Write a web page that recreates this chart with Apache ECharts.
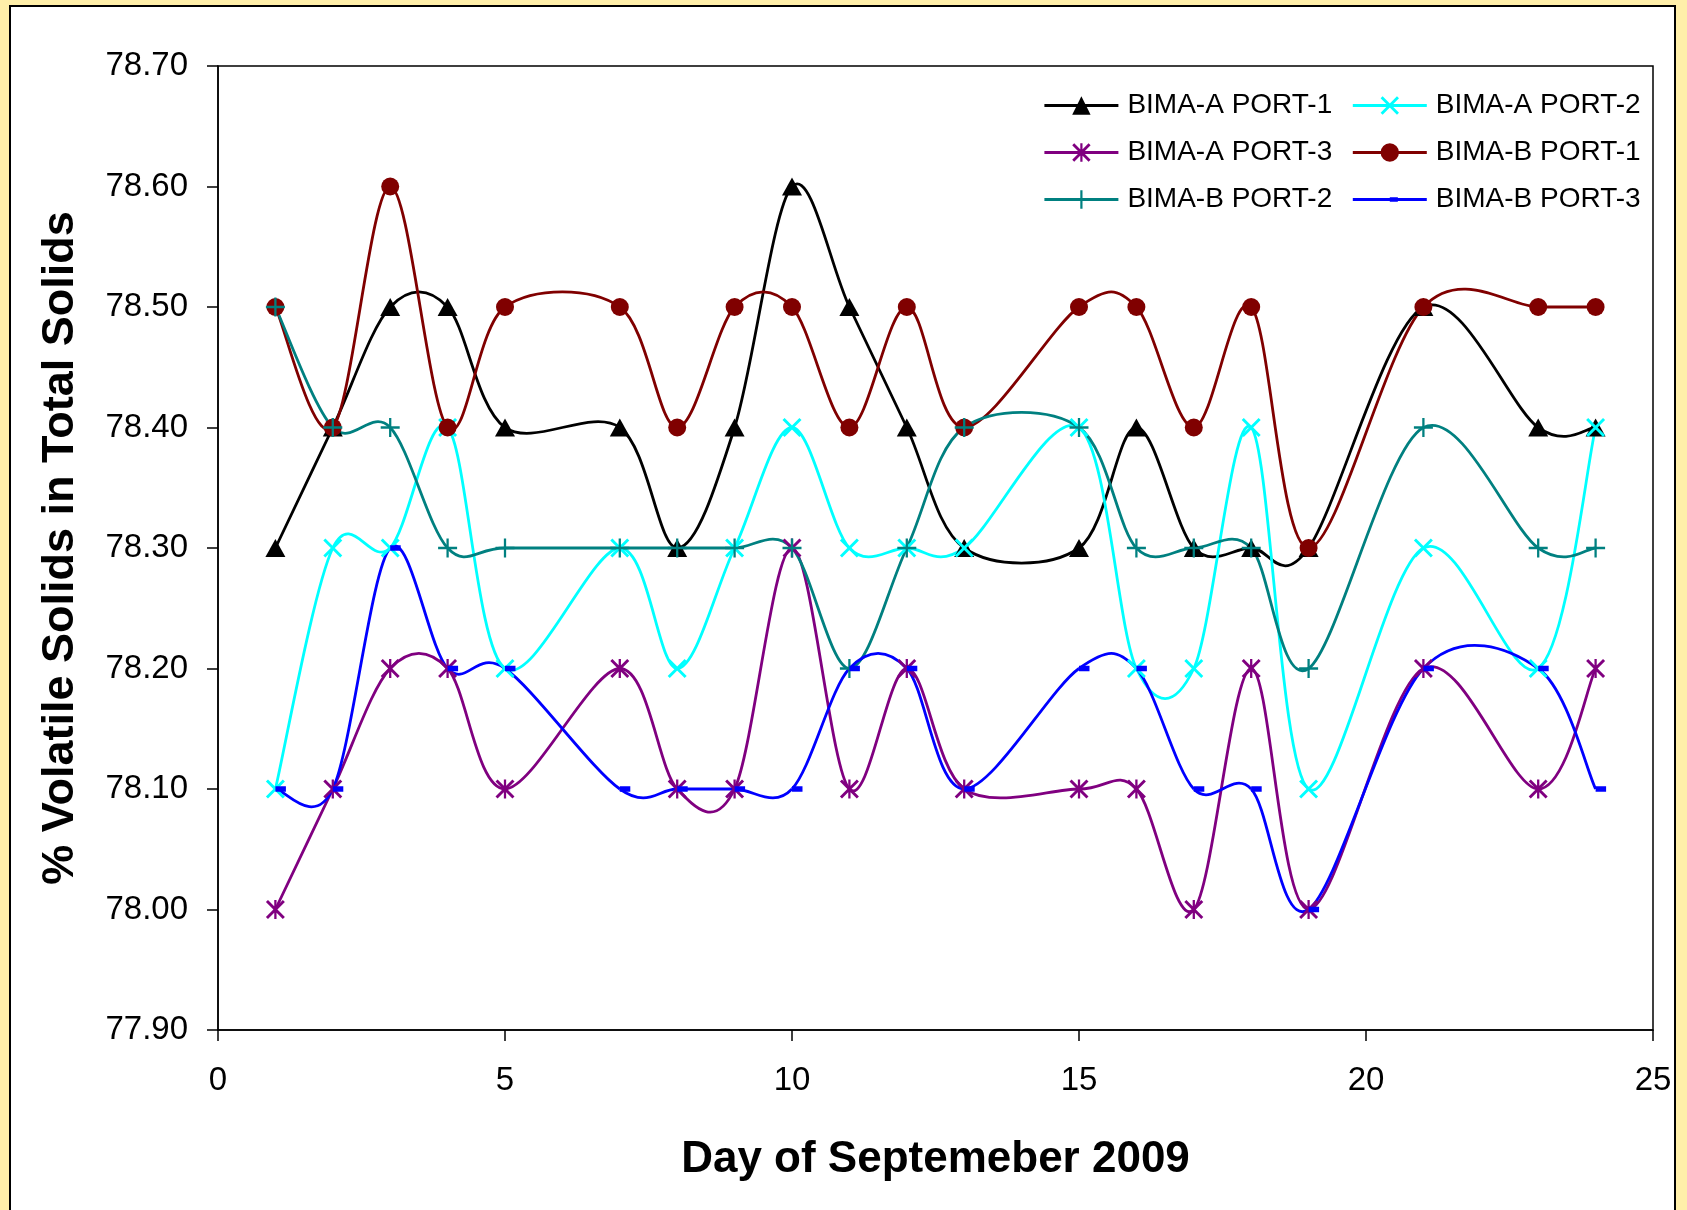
<!DOCTYPE html>
<html>
<head>
<meta charset="utf-8">
<script src="https://cdn.jsdelivr.net/npm/echarts@6/dist/echarts.min.js"></script>
<style>
  html, body { margin: 0; padding: 0; background: #FFEFA9; }
  #panel { position: absolute; left: 9px; top: 5px; width: 1667px; height: 1300px; background: #fff; border: 2px solid #000; box-sizing: border-box; }
  #main { position: absolute; left: 0; top: 0; width: 1687px; height: 1210px; }
</style>
</head>
<body>
<div id="panel"></div>
<div id="main"></div>
<script>
// day of month
const days = [1, 2, 3, 4, 5, 7, 8, 9, 10, 11, 12, 13, 15, 16, 17, 18, 19, 21, 23, 24];

const aPort1 = [78.30, 78.40, 78.50, 78.50, 78.40, 78.40, 78.30, 78.40, 78.60, 78.50, 78.40, 78.30, 78.30, 78.40, 78.30, 78.30, 78.30, 78.50, 78.40, 78.40];
const aPort2 = [78.10, 78.30, 78.30, 78.40, 78.20, 78.30, 78.20, 78.30, 78.40, 78.30, 78.30, 78.30, 78.40, 78.20, 78.20, 78.40, 78.10, 78.30, 78.20, 78.40];
const aPort3 = [78.00, 78.10, 78.20, 78.20, 78.10, 78.20, 78.10, 78.10, 78.30, 78.10, 78.20, 78.10, 78.10, 78.10, 78.00, 78.20, 78.00, 78.20, 78.10, 78.20];
const bPort1 = [78.50, 78.40, 78.60, 78.40, 78.50, 78.50, 78.40, 78.50, 78.50, 78.40, 78.50, 78.40, 78.50, 78.50, 78.40, 78.50, 78.30, 78.50, 78.50, 78.50];
const bPort2 = [78.50, 78.40, 78.40, 78.30, 78.30, 78.30, 78.30, 78.30, 78.30, 78.20, 78.30, 78.40, 78.40, 78.30, 78.30, 78.30, 78.20, 78.40, 78.30, 78.30];
const bPort3 = [78.10, 78.10, 78.30, 78.20, 78.20, 78.10, 78.10, 78.10, 78.10, 78.20, 78.20, 78.10, 78.20, 78.20, 78.10, 78.10, 78.00, 78.20, 78.20, 78.10];

const font = 'Arial, "Liberation Sans", sans-serif';

// filled marker shapes (excel style x, * and +, dash)
const xPath = 'path://M0,1.1L1.1,0L10,8.9L8.9,10ZM8.9,0L10,1.1L1.1,10L0,8.9Z';
const starPath = 'path://M0,1.1L1.1,0L10,8.9L8.9,10ZM8.9,0L10,1.1L1.1,10L0,8.9ZM4.4,0L5.6,0L5.6,10L4.4,10Z';
const plusPath = 'path://M4.4,0L5.6,0L5.6,4.4L10,4.4L10,5.6L5.6,5.6L5.6,10L4.4,10L4.4,5.6L0,5.6L0,4.4L4.4,4.4Z';
const dashPath = 'path://M0,0L0.001,0L0,0.001ZM24,24L24.001,24L24,24.001ZM12,9.2L22.5,9.2L22.5,14.8L12,14.8Z';

function zip(vals) {
  return days.map((d, i) => [d, vals[i]]);
}

// excel-like smoothing: catmull-rom segments drawn via the axis scales
function curveSeries(name, vals, color) {
  const n = days.length;
  return {
    name: name + ' curve',
    type: 'custom',
    data: zip(vals),
    z: 2,
    silent: true,
    animation: false,
    renderItem: function (params, api) {
      const i = params.dataIndex;
      if (i >= n - 1) return null;
      const p0 = api.coord([days[Math.max(i - 1, 0)], vals[Math.max(i - 1, 0)]]);
      const p1 = api.coord([days[i], vals[i]]);
      const p2 = api.coord([days[i + 1], vals[i + 1]]);
      const p3 = api.coord([days[Math.min(i + 2, n - 1)], vals[Math.min(i + 2, n - 1)]]);
      return {
        type: 'bezierCurve',
        shape: {
          x1: p1[0], y1: p1[1],
          cpx1: p1[0] + (p2[0] - p0[0]) / 6, cpy1: p1[1] + (p2[1] - p0[1]) / 6,
          cpx2: p2[0] - (p3[0] - p1[0]) / 6, cpy2: p2[1] - (p3[1] - p1[1]) / 6,
          x2: p2[0], y2: p2[1]
        },
        style: { stroke: color, lineWidth: 2.8, fill: null }
      };
    }
  };
}

function markerSeries(name, vals, color, symbol, size) {
  return {
    name: name,
    type: 'line',
    data: zip(vals),
    symbol: symbol,
    symbolSize: size,
    showAllSymbol: true,
    color: color,
    z: 3,
    lineStyle: { color: color, width: 2.8, opacity: 0 },
    itemStyle: { color: color, borderWidth: 0 },
    emphasis: { disabled: true },
    animation: false
  };
}

const names = ['BIMA-A PORT-1', 'BIMA-A PORT-2', 'BIMA-A PORT-3', 'BIMA-B PORT-1', 'BIMA-B PORT-2', 'BIMA-B PORT-3'];
const values = [aPort1, aPort2, aPort3, bPort1, bPort2, bPort3];
const colors = ['#000000', '#00FFFF', '#800080', '#800000', '#008080', '#0000FF'];
const symbols = ['triangle', xPath, starPath, 'circle', plusPath, dashPath];
const sizes = [[20, 18], 19, 19, 18, 19, 24];

const series = [];
names.forEach((nm, k) => {
  series.push(curveSeries(nm, values[k], colors[k]));
  series.push(markerSeries(nm, values[k], colors[k], symbols[k], sizes[k]));
});

const chart = echarts.init(document.getElementById('main'), null, { renderer: 'canvas' });

chart.setOption({
  backgroundColor: 'transparent',
  animation: false,
  grid: {
    left: 218, top: 66, right: 34, bottom: 180,
    show: true, borderColor: '#000', borderWidth: 1.5, backgroundColor: 'transparent'
  },
  legend: {
    left: 1038,
    top: 82,
    width: 700,
    itemWidth: 74,
    itemHeight: 23,
    itemGap: 10,
    lineStyle: { width: 2.8, opacity: 1 },
    textStyle: { fontFamily: font, fontSize: 28, color: '#000', width: 214, lineHeight: 37, padding: [0, 0, 0, 4] },
    data: names
  },
  xAxis: {
    type: 'value',
    min: 0, max: 25, interval: 5,
    name: 'Day of Septemeber 2009',
    nameLocation: 'middle',
    nameGap: 108,
    nameTextStyle: { fontFamily: font, fontSize: 44, fontWeight: 'bold', color: '#000' },
    axisLine: { lineStyle: { color: '#000', width: 1.5 } },
    axisTick: { inside: false, length: 11, lineStyle: { color: '#000', width: 1.5 } },
    axisLabel: { fontFamily: font, fontSize: 33, color: '#000', margin: 34 },
    splitLine: { show: false }
  },
  yAxis: {
    type: 'value',
    min: 77.9, max: 78.7, interval: 0.1,
    name: '% Volatile Solids in Total Solids',
    nameLocation: 'middle',
    nameGap: 135,
    nameTextStyle: { fontFamily: font, fontSize: 45, fontWeight: 'bold', color: '#000' },
    axisLine: { show: true, lineStyle: { color: '#000', width: 1.5 } },
    axisTick: { show: true, inside: false, length: 11, lineStyle: { color: '#000', width: 1.5 } },
    axisLabel: {
      fontFamily: font, fontSize: 33, color: '#000', margin: 30,
      formatter: v => v.toFixed(2)
    },
    splitLine: { show: false }
  },
  series: series
});
</script>
</body>
</html>
